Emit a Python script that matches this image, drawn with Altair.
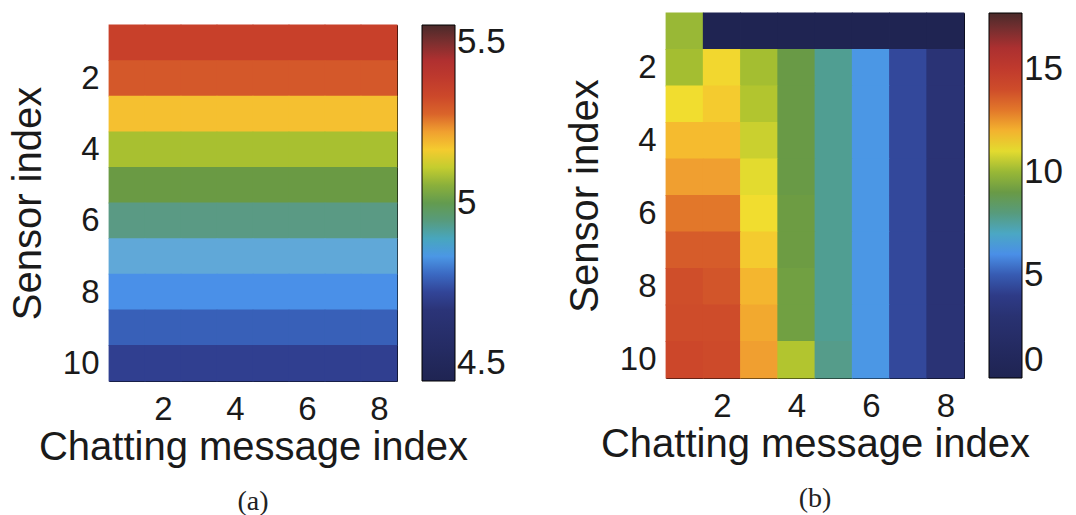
import altair as alt
import pandas as pd

messages = [1, 2, 3, 4, 5, 6, 7, 8]
sensors = [1, 2, 3, 4, 5, 6, 7, 8, 9, 10]

# (a): one level per sensor, the same for every chatting message
sensor_level_a = [5.32, 5.26, 5.16, 5.08, 5.01, 4.94, 4.88, 4.84, 4.79, 4.74]

# (b): rows are sensors 1..10, columns are chatting messages 1..8
grid_b = [
    [10.0, 0.0, 0.0, 0.0, 0.0, 0.0, 0.0, 0.0],
    [10.2, 11.3, 10.2, 9.0, 7.6, 6.2, 4.5, 3.3],
    [11.2, 11.5, 10.4, 9.0, 7.6, 6.2, 4.5, 3.3],
    [11.8, 11.8, 10.7, 9.0, 7.6, 6.2, 4.5, 3.3],
    [12.4, 12.4, 11.0, 9.0, 7.6, 6.2, 4.5, 3.3],
    [13.0, 13.0, 11.2, 9.1, 7.6, 6.2, 4.5, 3.3],
    [13.4, 13.4, 11.5, 9.1, 7.6, 6.2, 4.5, 3.3],
    [13.9, 13.6, 11.9, 9.2, 7.6, 6.2, 4.5, 3.3],
    [14.0, 14.0, 12.2, 9.2, 7.6, 6.2, 4.5, 3.3],
    [14.2, 14.1, 12.4, 10.4, 7.7, 6.2, 4.5, 3.3],
]

# jet-like colour map: relative stop positions and colours
cmap_pos = [0.0, 0.20, 0.24, 0.29, 0.34, 0.38, 0.44, 0.51, 0.58, 0.63, 0.66,
            0.70, 0.76, 0.82, 0.90, 1.0]
cmap_col = ["#1f2452", "#2b3478", "#303f90", "#3860b8", "#4a90e8", "#60a8d8",
            "#5a9a84", "#6a9a44", "#a8c030", "#f0e030", "#f5c030", "#f0a030",
            "#d4582a", "#c8402a", "#b03030", "#4a2a2a"]

SANS = "Liberation Sans"
SERIF = "Liberation Serif"


def table(rows):
    recs = []
    for s, row in zip(sensors, rows):
        for m, v in zip(messages, row):
            recs.append({"m": m, "s": s, "v": v})
    return pd.DataFrame(recs)


df_a = table([[lvl] * len(messages) for lvl in sensor_level_a])
df_b = table(grid_b)


def panel(df, w, h, lo, hi, ticks, tag):
    dom = [lo + p * (hi - lo) for p in cmap_pos]
    n_m, n_s = len(messages), len(sensors)
    # each cell spans index +/- 0.5; a hair of overlap hides anti-alias seams
    heat = alt.Chart(df).transform_calculate(
        m0="datum.m - 0.5", m1="datum.m + 0.5",
        s0="datum.s - 0.5", s1="datum.s + 0.5",
    ).mark_rect(xOffset=-0.4, x2Offset=0.4, yOffset=-0.4, y2Offset=0.4).encode(
        x=alt.X("m0:Q", title="Chatting message index",
                scale=alt.Scale(domain=[0.5, n_m + 0.5], nice=False, zero=False),
                axis=alt.Axis(values=[2, 4, 6, 8], labelAngle=0,
                              labelPadding=12, titlePadding=1)),
        x2="m1:Q",
        y=alt.Y("s0:Q", title="Sensor index",
                scale=alt.Scale(domain=[0.5, n_s + 0.5], nice=False, zero=False,
                                reverse=True),
                axis=alt.Axis(values=[2, 4, 6, 8, 10],
                              labelPadding=10, titlePadding=14)),
        y2="s1:Q",
        color=alt.Color("v:Q", title=None,
                        scale=alt.Scale(domain=dom, range=cmap_col),
                        legend=alt.Legend(values=ticks, format="~g",
                                          labelBaseline="middle",
                                          gradientLength=h,
                                          gradientThickness=33, offset=25)),
    )
    cap = alt.Chart(pd.DataFrame({"t": [tag]})).mark_text(
        font=SERIF, fontSize=28, color="#222222", baseline="middle"
    ).encode(text="t:N", x=alt.value(w / 2), y=alt.value(h + 121))
    return alt.layer(heat, cap).properties(width=w, height=h)


pa = panel(df_a, 288, 356, 4.5, 5.5, [4.5, 5, 5.5], "(a)")
pb = panel(df_b, 298, 365, 0.0, 17.7, [0, 5, 10, 15], "(b)")

# thin empty strip above (a) so its plot sits a little lower than (b)
gap = alt.Chart(pd.DataFrame({"t": [0]})).mark_rect(opacity=0).encode(
    x=alt.value(0)
).properties(width=288, height=1, view=alt.ViewBackground(stroke="transparent"))

left = alt.vconcat(gap, pa, spacing=9).resolve_scale(color="independent")

chart = alt.hconcat(left, pb, spacing=57).resolve_scale(
    color="independent", x="independent", y="independent"
).configure(
    padding={"left": 7, "top": 12, "right": 0, "bottom": 0},
).configure_view(
    stroke="#000000", strokeWidth=1
).configure_axis(
    labelFont=SANS, titleFont=SANS, labelFontSize=33, titleFontSize=40,
    titleFontWeight="normal", labelColor="#1a1a1a", titleColor="#1a1a1a",
    ticks=False, domain=False, grid=False,
).configure_legend(
    labelFont=SANS, labelFontSize=35, labelColor="#1a1a1a",
    labelOffset=7, labelOverlap=False,
    gradientStrokeColor="#000000", gradientStrokeWidth=1,
)

chart.save("out.html", embed_options={"renderer": "svg", "actions": False})
